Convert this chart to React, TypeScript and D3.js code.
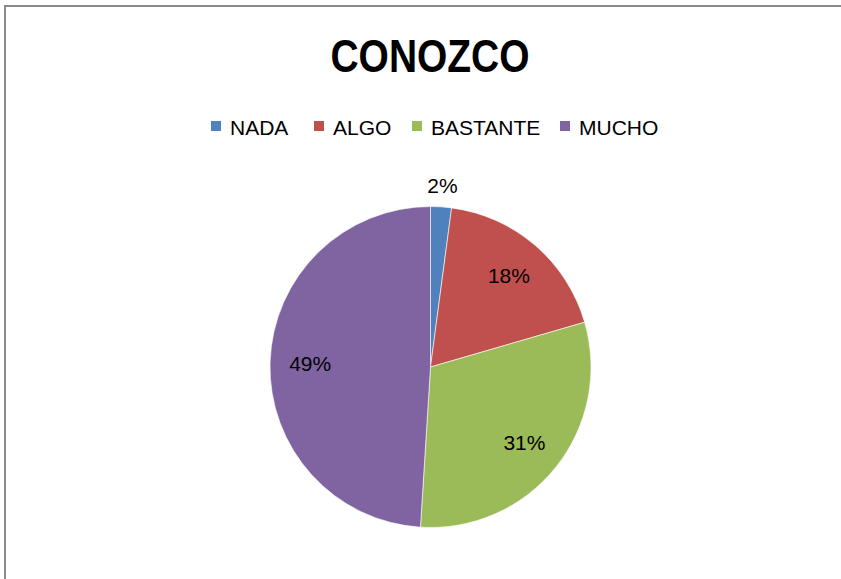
import React from "react";
import * as d3 from "d3";

const categories = ["NADA", "ALGO", "BASTANTE", "MUCHO"];
const values = [2.1, 18.4, 30.5, 49.0];
const colors = ["#4F81BD", "#C0504D", "#9BBB59", "#8064A2"];
const title = "CONOZCO";

const W = 841;
const H = 579;
const cx = 430.5;
const cy = 367;
const R = 160.5;
const legendX = [211, 314, 412, 560];
const FONT = "'Liberation Sans', Arial, sans-serif";

export default function App() {
  const pie = d3.pie<number>().sort(null).value((d) => d)(values);
  const arc = d3.arc<d3.PieArcDatum<number>>().innerRadius(0).outerRadius(R);
  const labelArc = d3.arc<d3.PieArcDatum<number>>().innerRadius(R * 0.75).outerRadius(R * 0.75);
  const outerArc = d3.arc<d3.PieArcDatum<number>>().innerRadius(R + 21).outerRadius(R + 21);
  const total = d3.sum(values);
  return (
    <svg width={W} height={H} style={{ position: "absolute", left: 0, top: 0 }}>
      <rect x={0} y={0} width={W} height={H} fill="#fff" />
      <rect x={5} y={6} width={W + 20} height={H + 20} fill="#fff" stroke="#8a8a8a" strokeWidth={2} />
      <text x={430} y={72} textAnchor="middle" fontFamily={FONT} fontWeight="bold" fontSize={46}
        textLength={199} lengthAdjust="spacingAndGlyphs" fill="#000">{title}</text>
      {categories.map((c, i) => (
        <g key={c}>
          <rect x={legendX[i]} y={121} width={10} height={10} fill={colors[i]} />
          <text x={legendX[i] + 19} y={134.5} fontFamily={FONT} fontSize={21} fill="#000">{c}</text>
        </g>
      ))}
      <g transform={`translate(${cx},${cy})`}>
        {pie.map((p, i) => (
          <path key={i} d={arc(p) || ""} fill={colors[i]} stroke="#fff" strokeWidth={0.6} />
        ))}
        {pie.map((p, i) => {
          const pct = Math.round((p.data / total) * 100);
          const [x, y] = pct < 5 ? outerArc.centroid(p) : labelArc.centroid(p);
          return (
            <text key={"l" + i} x={x} y={y} dy="0.36em" textAnchor="middle" fontFamily={FONT}
              fontSize={21} fill="#000">{pct}%</text>
          );
        })}
      </g>
    </svg>
  );
}
